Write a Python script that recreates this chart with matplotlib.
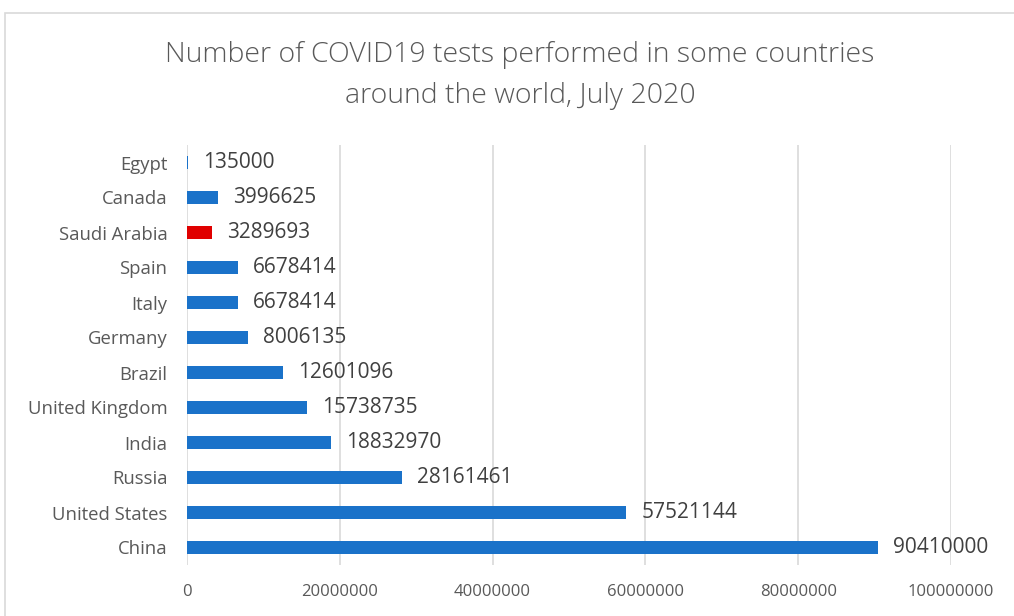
import matplotlib.pyplot as plt
from matplotlib.patches import Rectangle

countries = ["China", "United States", "Russia", "India", "United Kingdom",
             "Brazil", "Germany", "Italy", "Spain", "Saudi Arabia", "Canada", "Egypt"]
tests = [90410000, 57521144, 28161461, 18832970, 15738735,
         12601096, 8006135, 6678414, 6678414, 3289693, 3996625, 135000]
colors = ["#1a72c9"] * 9 + ["#e00000", "#1a72c9", "#1a72c9"]

plt.rcParams['font.family'] = ['Open Sans', 'DejaVu Sans']
gray = "#595959"

fig = plt.figure(figsize=(10.14, 6.16), dpi=100)
fig.patches.append(Rectangle((5 / 1014, -0.1), 1.1, 1 - 13 / 616 + 0.1,
                             transform=fig.transFigure, fill=False,
                             edgecolor="#d9d9d9", linewidth=1.2))
ax = fig.add_axes([187 / 1014, 1 - 565 / 616, (951 - 187) / 1014, (565 - 145) / 616])

ypos = list(range(len(countries)))
ax.barh(ypos, tests, height=0.35, color=colors, zorder=3)
for y, v in zip(ypos, tests):
    ax.text(v + 2000000, y, str(v), va="center", ha="left", fontsize=15, color="#404040")

ax.set_xlim(0, 100000000)
ax.set_ylim(-0.5, len(countries) - 0.5)
ax.set_xticks(range(0, 100000001, 20000000))
ax.set_xticklabels([str(t) for t in range(0, 100000001, 20000000)])
ax.set_yticks(ypos)
ax.set_yticklabels(countries)
ax.tick_params(axis="y", length=0, pad=14, labelsize=13.3, labelcolor=gray)
ax.tick_params(axis="x", length=0, pad=14, labelsize=12, labelcolor=gray)
ax.grid(axis="x", color="#d9d9d9", linewidth=1.2, zorder=0)
for s in ax.spines.values():
    s.set_visible(False)

fig.text(520 / 1014, 1 - 55 / 616, "Number of COVID19 tests performed in some countries",
         ha="center", va="center", fontsize=20.5, color=gray, fontweight="light")
fig.text(520 / 1014, 1 - 96 / 616, "around the world, July 2020",
         ha="center", va="center", fontsize=20.5, color=gray, fontweight="light")

fig.savefig("out.png", dpi=100)
